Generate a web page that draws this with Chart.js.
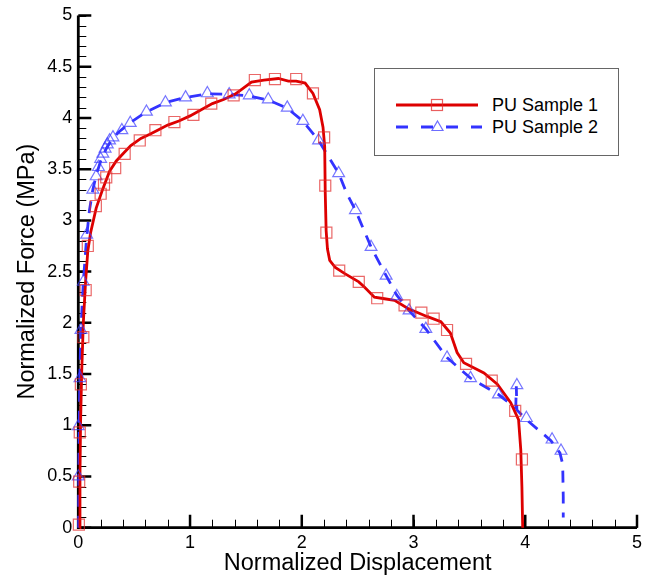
<!DOCTYPE html>
<html><head><meta charset="utf-8">
<script src="https://cdn.jsdelivr.net/npm/chart.js@4.4.0/dist/chart.umd.min.js"></script>
<style>
html,body{margin:0;padding:0;background:#fff;}
#wrap{position:relative;width:646px;height:581px;overflow:hidden;}
#legend{position:absolute;left:374px;top:68px;width:245px;height:88px;border:1px solid #666;box-sizing:border-box;background:#fff;font-family:"Liberation Sans",Arial,sans-serif;font-size:18px;color:#000;}
#legend svg{position:absolute;left:0;top:0;}
.lt{position:absolute;left:117px;line-height:20px;white-space:nowrap;}
</style></head><body>
<div id="wrap"><canvas id="c" width="646" height="581"></canvas>
<div id="legend">
<svg width="245" height="88">
<line x1="21" y1="36" x2="103" y2="36" stroke="#dd0000" stroke-width="3"/>
<rect x="56.5" y="30.5" width="11" height="11" fill="none" stroke="rgba(225,40,40,0.75)" stroke-width="1.2"/>
<line x1="21" y1="58" x2="107" y2="58" stroke="#3333ff" stroke-width="3" stroke-dasharray="12 13"/>
<polygon points="62.5,52 68,61.5 57,61.5" fill="none" stroke="rgba(60,60,255,0.75)" stroke-width="1.2"/>
</svg>
<div class="lt" style="top:26px">PU Sample 1</div>
<div class="lt" style="top:48px">PU Sample 2</div>
</div>
</div>
<script>
const seriesNames = ['PU Sample 1', 'PU Sample 2'];
const xTickLabels = ['0','1','2','3','4','5'];
const yTickLabels = ['0','0.5','1','1.5','2','2.5','3','3.5','4','4.5','5'];

// PU Sample 1 curve
const s1X = [0.012,0.015,0.02,0.03,0.045,0.065,0.085,0.11,0.16,0.22,0.28,0.34,0.40,0.47,0.56,0.64,0.71,0.80,0.90,1.00,1.10,1.20,1.30,1.40,1.45,1.55,1.66,1.79,1.88,1.95,2.03,2.10,2.16,2.19,2.205,2.21,2.218,2.23,2.25,2.30,2.385,2.51,2.56,2.65,2.74,2.83,2.95,3.125,3.245,3.33,3.39,3.45,3.63,3.75,3.87,3.94,3.96,3.97,3.977];
const s1Y = [0,0.5,1.0,1.5,2.0,2.4,2.7,2.88,3.12,3.31,3.48,3.58,3.65,3.73,3.80,3.84,3.88,3.93,3.97,4.02,4.08,4.14,4.18,4.23,4.27,4.35,4.37,4.385,4.36,4.36,4.34,4.24,4.08,3.91,3.72,3.27,2.9,2.72,2.61,2.54,2.48,2.40,2.35,2.25,2.235,2.22,2.14,2.06,2.01,1.90,1.71,1.61,1.51,1.40,1.22,1.055,0.76,0.4,0];
// PU Sample 1 symbols
const s1MarkX = [0.005,0.008,0.013,0.023,0.045,0.066,0.085,0.157,0.20,0.23,0.25,0.33,0.415,0.55,0.69,0.86,1.03,1.19,1.39,1.58,1.76,1.95,2.10,2.20,2.21,2.22,2.335,2.51,2.675,2.92,3.07,3.18,3.30,3.47,3.70,3.91,3.97];
const s1MarkY = [0.03,0.45,0.93,1.40,1.86,2.32,2.75,3.14,3.26,3.35,3.42,3.51,3.65,3.78,3.88,3.96,4.03,4.14,4.22,4.37,4.38,4.38,4.24,3.81,3.34,2.88,2.51,2.40,2.24,2.17,2.10,2.04,1.93,1.60,1.435,1.14,0.666];

// PU Sample 2 curve
const s2X = [0.003,0.005,0.008,0.014,0.024,0.045,0.075,0.10,0.13,0.16,0.20,0.25,0.30,0.36,0.46,0.61,0.78,0.96,1.155,1.35,1.53,1.70,1.87,2.01,2.15,2.24,2.33,2.40,2.48,2.62,2.755,2.85,2.96,3.11,3.30,3.51,3.76,3.915,3.92,3.925,4.01,4.23,4.31,4.335,4.34,4.34];
const s2Y = [0,0.5,1.0,1.5,1.95,2.4,2.84,3.1,3.3,3.44,3.58,3.70,3.79,3.86,3.95,4.06,4.15,4.20,4.235,4.23,4.215,4.175,4.095,3.97,3.78,3.62,3.46,3.27,3.10,2.74,2.46,2.27,2.12,1.94,1.66,1.46,1.30,1.17,1.38,1.15,1.055,0.85,0.73,0.62,0.3,0.1];
// PU Sample 2 symbols
const s2MarkX = [0.0,0.0,0.015,0.024,0.045,0.075,0.13,0.16,0.18,0.20,0.22,0.24,0.26,0.28,0.31,0.39,0.465,0.61,0.78,0.96,1.155,1.35,1.53,1.70,1.87,2.01,2.15,2.33,2.48,2.62,2.755,2.85,2.96,3.11,3.30,3.51,3.76,3.925,4.01,4.24,4.32];
const s2MarkY = [0.5,0.99,1.46,1.93,2.40,2.86,3.30,3.43,3.52,3.60,3.65,3.70,3.74,3.78,3.81,3.88,3.95,4.06,4.15,4.20,4.24,4.23,4.22,4.18,4.10,3.97,3.78,3.46,3.10,2.74,2.46,2.26,2.12,1.94,1.66,1.46,1.30,1.39,1.07,0.86,0.75];

const pts = (xs, ys) => xs.map((x, i) => ({x, y: ys[i]}));
const FONT = '"Liberation Sans", Arial, sans-serif';
const xMinorStep = 0.2, yMinorStep = 0.1;

const axesPlugin = {
  id: 'axesDraw',
  beforeDatasetsDraw(chart) {
    const {ctx, scales: {x, y}} = chart;
    const x0 = x.getPixelForValue(0), x1 = x.getPixelForValue(5);
    const y0 = y.getPixelForValue(0), y1 = y.getPixelForValue(5);
    ctx.save();
    ctx.strokeStyle = '#000';
    ctx.lineWidth = 1;
    ctx.beginPath();
    for (let k = 0; k <= 25; k++) {
      const px = Math.round(x.getPixelForValue(k * xMinorStep)) + 0.5;
      ctx.moveTo(px, y0); ctx.lineTo(px, y0 - 8);
    }
    for (let k = 0; k <= 50; k++) {
      const py = Math.round(y.getPixelForValue(k * yMinorStep)) + 0.5;
      ctx.moveTo(x0, py); ctx.lineTo(x0 + 8, py);
    }
    ctx.stroke();
    ctx.lineWidth = 2.5;
    ctx.beginPath();
    x.ticks.forEach(t => { const px = x.getPixelForValue(t.value); ctx.moveTo(px, y0); ctx.lineTo(px, y0 - 13); });
    y.ticks.forEach(t => { const py = y.getPixelForValue(t.value); ctx.moveTo(x0, py); ctx.lineTo(x0 + 13, py); });
    ctx.stroke();
    ctx.lineWidth = 2.8;
    ctx.beginPath();
    ctx.moveTo(x0, y1); ctx.lineTo(x0, y0 + 1.4);
    ctx.moveTo(x0 - 1.4, y0); ctx.lineTo(x1, y0);
    ctx.stroke();
    ctx.restore();
  }
};

new Chart(document.getElementById('c'), {
  type: 'scatter',
  data: {
    datasets: [
      {label: seriesNames[0] + ' symbols', data: pts(s1MarkX, s1MarkY), showLine: false, pointStyle: 'rect', pointRadius: 7.8, pointBorderWidth: 1.2, pointBorderColor: 'rgba(225,40,40,0.7)', pointBackgroundColor: 'rgba(0,0,0,0)', clip: false, order: 1},
      {label: seriesNames[1] + ' symbols', data: pts(s2MarkX, s2MarkY), showLine: false, pointStyle: 'triangle', pointRadius: 6.8, pointBorderWidth: 1.2, pointBorderColor: 'rgba(60,60,255,0.7)', pointBackgroundColor: 'rgba(0,0,0,0)', clip: false, order: 1},
      {label: seriesNames[0], data: pts(s1X, s1Y), showLine: true, borderColor: '#dd0000', borderWidth: 2.8, pointRadius: 0, tension: 0, clip: false, order: 2},
      {label: seriesNames[1], data: pts(s2X, s2Y), showLine: true, borderColor: '#3333ff', borderWidth: 2.8, borderDash: [12, 9], pointRadius: 0, tension: 0, clip: false, order: 3}
    ]
  },
  options: {
    responsive: false,
    animation: false,
    events: [],
    layout: {padding: {left: 0, right: 6, top: 15.5, bottom: 0}},
    plugins: {legend: {display: false}, tooltip: {enabled: false}},
    scales: {
      x: {
        type: 'linear', min: 0, max: 5,
        grid: {display: false, drawTicks: false},
        border: {display: false},
        ticks: {stepSize: 1, padding: 5, color: '#000', font: {family: FONT, size: 18}, callback: (v, i) => xTickLabels[i]},
        title: {display: true, text: 'Normalized Displacement', color: '#000', font: {family: FONT, size: 23.5}, padding: {top: 0, bottom: 3}},
        afterFit(s) { s.height = 53.3; s.paddingLeft = 0; s.paddingRight = 0; }
      },
      y: {
        type: 'linear', min: 0, max: 5,
        grid: {display: false, drawTicks: false},
        border: {display: false},
        ticks: {stepSize: 0.5, padding: 6, color: '#000', font: {family: FONT, size: 18}, callback: (v, i) => yTickLabels[i]},
        title: {display: true, text: 'Normalized Force (MPa)', color: '#000', font: {family: FONT, size: 23.5}, padding: {top: 13, bottom: 0}},
        afterFit(s) { s.width = 78.3; s.paddingTop = 0; s.paddingBottom = 0; }
      }
    }
  },
  plugins: [axesPlugin]
});
</script>
</body></html>
